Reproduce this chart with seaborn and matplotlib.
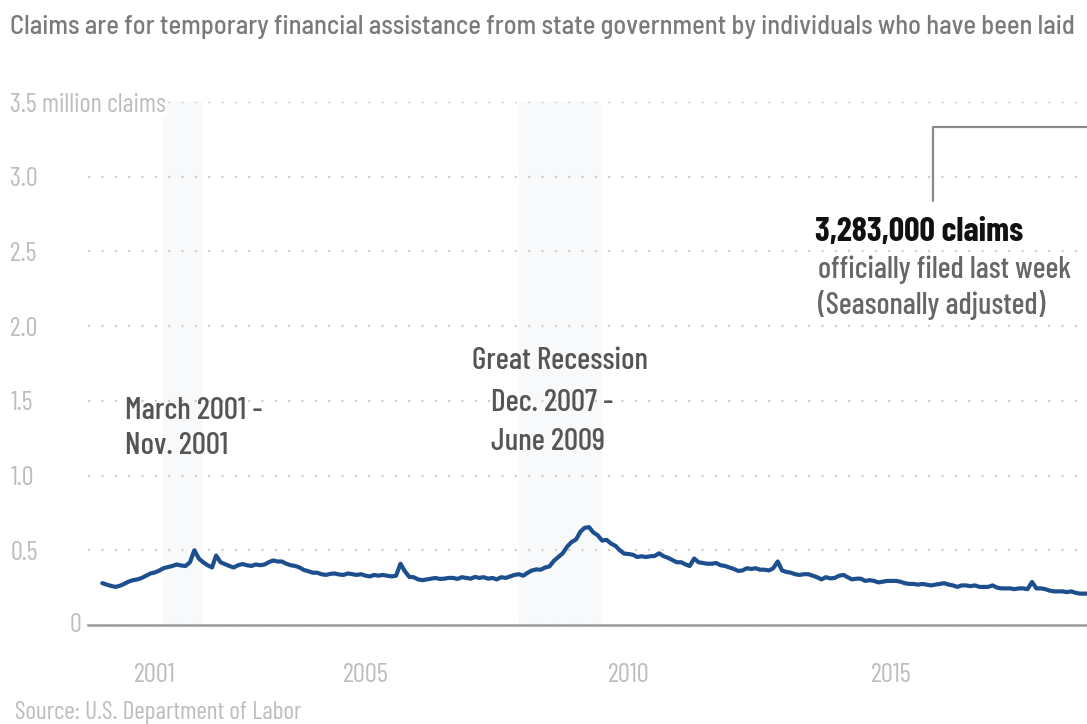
import matplotlib
matplotlib.use("Agg")
import matplotlib.pyplot as plt
import pandas as pd
import seaborn as sns

# ---- data: initial jobless claims (thousands, seasonally adjusted, monthly readings) ----
claims_2000 = [280, 270, 262, 255, 262, 275, 290, 300, 305, 315, 330, 345]
claims_2001 = [352, 365, 380, 388, 395, 405, 398, 395, 420, 500, 445, 420]
claims_2002 = [400, 385, 465, 420, 408, 395, 385, 400, 408, 400, 395, 405]
claims_2003 = [400, 405, 420, 432, 425, 425, 410, 400, 395, 385, 368, 360]
claims_2004 = [350, 350, 340, 335, 342, 345, 338, 335, 345, 340, 335, 340]
claims_2005 = [330, 325, 335, 330, 335, 330, 325, 330, 410, 360, 322, 320]
claims_2006 = [305, 300, 305, 310, 315, 308, 310, 315, 315, 308, 320, 315]
claims_2007 = [310, 322, 315, 320, 310, 315, 305, 320, 315, 325, 335, 340]
claims_2008 = [330, 350, 365, 372, 370, 385, 392, 430, 455, 480, 525, 555]
claims_2009 = [572, 625, 650, 655, 620, 600, 565, 570, 545, 530, 500, 478]
claims_2010 = [475, 470, 455, 460, 455, 460, 462, 480, 460, 450, 435, 420]
claims_2011 = [420, 405, 395, 445, 420, 415, 410, 410, 415, 400, 395, 385]
claims_2012 = [375, 362, 365, 380, 375, 380, 370, 370, 365, 380, 425, 365]
claims_2013 = [355, 350, 340, 335, 340, 340, 330, 320, 305, 320, 312, 315]
claims_2014 = [330, 335, 320, 305, 310, 310, 295, 300, 295, 285, 290, 295]
claims_2015 = [295, 295, 290, 280, 275, 275, 270, 275, 270, 265, 270, 275]
claims_2016 = [280, 270, 265, 255, 265, 265, 260, 265, 255, 255, 255, 265]
claims_2017 = [250, 245, 245, 245, 240, 245, 245, 240, 288, 245, 245, 240]
claims_2018 = [230, 225, 225, 225, 220, 225, 215, 210, 210, 210, 220, 220]
claims_2019 = [215, 225, 215, 210, 215, 220, 210, 215, 210, 215, 225, 215]
claims_2020 = [210, 210, 3283]

recessions = [("2001-03-01", "2001-11-30"), ("2007-12-01", "2009-06-30")]
x_tick_years = [2001, 2005, 2010, 2015]
y_ticks = [0, 0.5, 1.0, 1.5, 2.0, 2.5, 3.0, 3.5]
y_tick_labels = ["", "0.5", "1.0", "1.5", "2.0", "2.5", "3.0", "3.5 million claims"]

# the reference image is cropped right after "laid"
subtitle = ("Claims are for temporary financial assistance from state government "
            "by individuals who have been laid")
source = "Source: U.S. Department of Labor"

claims_k = (claims_2000 + claims_2001 + claims_2002 + claims_2003 + claims_2004 +
            claims_2005 + claims_2006 + claims_2007 + claims_2008 + claims_2009 +
            claims_2010 + claims_2011 + claims_2012 + claims_2013 + claims_2014 +
            claims_2015 + claims_2016 + claims_2017 + claims_2018 + claims_2019 +
            claims_2020)
df = pd.DataFrame({
    "date": pd.date_range("2000-01-01", periods=len(claims_k), freq="MS"),
    "claims": [v / 1000 for v in claims_k],
})

# ---- style ----
sns.set_theme(style="white")
plt.rcParams["font.family"] = ["Barlow Condensed", "DejaVu Sans"]
SEMI = ["Barlow Semi Condensed", "Barlow Condensed", "DejaVu Sans"]

LINE = "#1d4f8f"
TICK = "#bdbdbd"
GRID = "#cfcfcf"
ANN = "#555555"

fig = plt.figure(figsize=(10.87, 7.24), dpi=100)
W, H = 1087, 724
ax = fig.add_axes([88 / W, 99 / H, 1093 / W, 523 / H])

for start, end in recessions:
    ax.axvspan(pd.Timestamp(start), pd.Timestamp(end), color="#f8f9fb", lw=0, zorder=0)

sns.lineplot(data=df, x="date", y="claims", ax=ax, color=LINE, lw=3.0, zorder=3)

ax.set_xlim(pd.Timestamp("1999-09-24"), pd.Timestamp("2020-07-01"))
ax.set_ylim(0, 3.5)

ax.set_xticks([pd.Timestamp(f"{y}-01-01") for y in x_tick_years])
ax.set_xticklabels([str(y) for y in x_tick_years])
ax.set_yticks(y_ticks)
ax.set_yticklabels(y_tick_labels)
ax.set_xlabel("")
ax.set_ylabel("")

for s in ["top", "right", "left"]:
    ax.spines[s].set_visible(False)
ax.spines["bottom"].set_color("#9a9a9a")
ax.spines["bottom"].set_linewidth(1.8)

ax.tick_params(axis="x", colors="#aaaaaa", labelsize=19.5, length=10, width=1.6,
               direction="out", pad=17, labelcolor=TICK)
ax.tick_params(axis="y", length=0, labelsize=19, pad=56, labelcolor=TICK)
for lab in ax.get_yticklabels():
    lab.set_horizontalalignment("left")
    lab.set_bbox(dict(facecolor="white", edgecolor="none", pad=1))

ax.grid(axis="y", color=GRID, linestyle=(0, (1, 5)), lw=1.6)
ax.grid(axis="x", visible=False)
ax.set_axisbelow(True)

# zero label next to axis
ax.text(-0.006, 0, "0", transform=ax.get_yaxis_transform(), ha="right",
        va="center", fontsize=19, color=TICK)

# ---- annotations ----
ax.text(pd.Timestamp("2000-06-05"), 1.315, "March 2001 -\nNov. 2001", ha="left",
        va="center", fontsize=22.5, fontweight="medium", color=ANN,
        linespacing=1.3, zorder=4)
ax.text(pd.Timestamp("2008-09-15"), 1.77, "Great Recession", ha="center",
        va="center", fontsize=22.5, fontweight="medium", color=ANN, zorder=4)
ax.text(pd.Timestamp("2007-05-20"), 1.355, "Dec. 2007 -\nJune 2009", ha="left",
        va="center", fontsize=22.5, fontweight="medium", color=ANN,
        linespacing=1.5, zorder=4)

ax.plot([pd.Timestamp("2015-10-15"), pd.Timestamp("2015-10-15"), pd.Timestamp("2020-03-15")],
        [2.84, 3.33, 3.33], color="#8a8a8a", lw=1.6, zorder=2)
ax.text(pd.Timestamp("2013-07-20"), 2.63, "3,283,000 claims", ha="left", va="center",
        fontsize=24.5, fontweight="bold", color="#111111", zorder=4)
ax.text(pd.Timestamp("2013-08-07"), 2.26, "officially filed last week\n(Seasonally adjusted)",
        ha="left", va="center", fontsize=22, fontweight="medium", color="#666666",
        linespacing=1.25, zorder=4)

fig.text(10 / W, 1 - 27 / H, subtitle, ha="left", va="center", fontsize=19.0,
         fontweight="medium", color="#7a7a7a", family=SEMI)
fig.text(15 / W, 1 - 712 / H, source, ha="left", va="center", fontsize=18.3, color=TICK)

fig.savefig("out.png", dpi=100, facecolor="white")
